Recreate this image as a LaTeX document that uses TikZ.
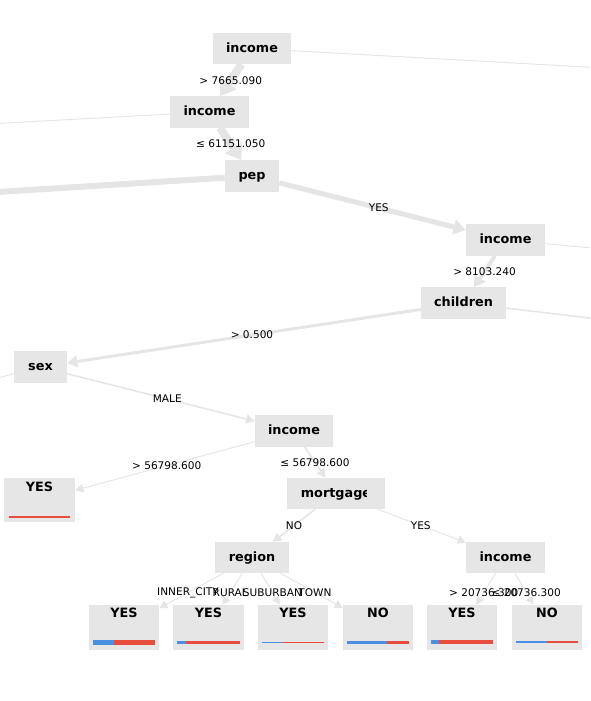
\documentclass[tikz,border=0pt]{standalone}
\usepackage{fontspec}
\setmainfont{DejaVu Sans}
\usetikzlibrary{arrows.meta,calc}

\definecolor{boxgray}{RGB}{230,230,230}
\definecolor{edgegray}{RGB}{229,229,229}
\definecolor{barblue}{RGB}{74,144,226}
\definecolor{barred}{RGB}{231,76,60}

\begin{document}
\begin{tikzpicture}[x=0.025cm, y=-0.025cm,
  box/.style={fill=boxgray, inner sep=0pt, minimum height=0.775cm, font=\bfseries\fontsize{9.1}{10}\selectfont, text height=7pt, text depth=2pt},
  leafbox/.style={fill=boxgray, inner sep=0pt, minimum width=1.75cm, minimum height=1.125cm},
  leaftext/.style={font=\bfseries\fontsize{9.1}{10}\selectfont, inner sep=0pt},
  edge/.style={draw=edgegray, -{Triangle[length=5pt 1, width=5pt 1.5]}},
  stub/.style={draw=edgegray},
  lbl/.style={font=\fontsize{7.5}{9}\selectfont, inner sep=1pt}]
\clip (0,0) rectangle (590,701);

\node[box, minimum width=1.95cm] (income1) at (252,48.5) {income};
\node[box, minimum width=1.975cm] (income2) at (209.5,112) {income};
\node[box, minimum width=1.35cm] (pep) at (252,176) {pep};
\node[box, minimum width=1.975cm] (income3) at (505.5,240) {income};
\node[box, minimum width=2.125cm] (children) at (463.5,303) {children};
\node[box, minimum width=1.325cm] (sex) at (40.5,367) {sex};
\node[box, minimum width=1.95cm] (income4) at (294,431) {income};
\node[box, minimum width=2.45cm] (mortgage) at (336,493.5) {};
\begin{scope}
\clip (287,470) rectangle (366,515);
\node[box, fill=none] (mortgagetext) at (mortgage) {mortgage};
\end{scope}
\node[box, minimum width=1.85cm] (region) at (252,557.5) {region};
\node[box, minimum width=1.975cm] (income5) at (505.5,557.5) {income};

\node[leafbox, minimum width=1.775cm, minimum height=1.1cm] (leafyes) at (39.5,500) {};
\node[leaftext] (leafyestext) at ([yshift=-0.225cm]leafyes.north) {YES};
\draw[barred, line width=1.4pt] ([xshift=0.125cm, yshift=0.125cm]leafyes.south west) -- ([xshift=-0.125cm, yshift=0.125cm]leafyes.south east);

\foreach \n/\x/\txt/\blue/\w in {1/124/YES/21/3.2pt, 2/208.5/YES/9/1.8pt, 3/293/YES/21/1.1pt,
    4/378/NO/40/1.9pt, 5/462/YES/8/2.6pt, 6/547/NO/31/1.4pt} {
  \node[leafbox] (leaf\n) at (\x,627.5) {};
  \node[leaftext] (leaf\n text) at ([yshift=-0.2cm]leaf\n.north) {\txt};
  \draw[barblue, line width=\w] ([xshift=0.1cm, yshift=0.2cm]leaf\n.south west) -- ++(\blue,0) coordinate (leaf\n mid);
  \draw[barred, line width=\w] (leaf\n mid) -- ([xshift=-0.1cm, yshift=0.2cm]leaf\n.south east);
}

\coordinate (outA) at (640,70);
\coordinate (outB) at (-50,126);
\coordinate (outC) at (-50,195);
\coordinate (outD) at (640,252.5);
\coordinate (outE) at (640,324);
\coordinate (outF) at (-50,390);

\draw[stub, line width=0.7pt] (income1) -- (outA);
\draw[stub, line width=0.7pt] (income2) -- (outB);
\draw[stub, line width=4.3pt] (pep) -- (outC);
\draw[stub, line width=0.7pt] (income3) -- (outD);
\draw[stub, line width=1.1pt] (children) -- (outE);
\draw[stub, line width=0.7pt] (sex) -- (outF);

\draw[edge, line width=5.7pt] (income1) -- (income2);
\draw[edge, line width=5.7pt] (income2) -- (pep);
\draw[edge, line width=3.6pt] (pep) -- (income3);
\draw[edge, line width=2.8pt] (income3) -- (children);
\draw[edge, line width=2.1pt] (children) -- (sex);
\draw[edge, line width=1.1pt] (sex) -- (income4);
\draw[edge, line width=0.7pt] (income4) -- (leafyes);
\draw[edge, line width=1.1pt] (income4) -- (mortgage);
\draw[edge, line width=1.1pt] (mortgage) -- (region);
\draw[edge, line width=0.7pt] (mortgage) -- (income5);
\draw[edge, line width=0.7pt] (region) -- (leaf1);
\draw[edge, line width=0.7pt] (region) -- (leaf2);
\draw[edge, line width=0.7pt] (region) -- (leaf3);
\draw[edge, line width=0.7pt] (region) -- (leaf4);
\draw[edge, line width=0.7pt] (income5) -- (leaf5);
\draw[edge, line width=0.7pt] (income5) -- (leaf6);

\node[lbl] (gt7665) at ($(income1)!.5!(income2)$) {> 7665.090};
\node[lbl] (le61151) at ($(income2)!.5!(pep)$) {≤ 61151.050};
\node[lbl] (pepyes) at ($(pep)!.5!(income3)$) {YES};
\node[lbl] (gt8103) at ($(income3)!.5!(children)$) {> 8103.240};
\node[lbl] (gt0500) at ($(children)!.5!(sex)$) {> 0.500};
\node[lbl] (sexmale) at ($(sex)!.5!(income4)$) {MALE};
\node[lbl] (gt56798) at ($(income4)!.5!(leafyes)$) {> 56798.600};
\node[lbl] (le56798) at ($(income4)!.5!(mortgage)$) {≤ 56798.600};
\node[lbl] (mortno) at ($(mortgage)!.5!(region)$) {NO};
\node[lbl] (mortyes) at ($(mortgage)!.5!(income5)$) {YES};
\node[lbl] (inner) at ($(region)!.5!(leaf1)$) {INNER\_CITY};
\node[lbl] (rural) at ($(region)!.5!(leaf2)$) {RURAL};
\node[lbl] (suburban) at ($(region)!.5!(leaf3)$) {SUBURBAN};
\node[lbl] (town) at ($(region)!.5!(leaf4)$) {TOWN};
\node[lbl] (gt20736) at ($(income5)!.5!(leaf5)$) {> 20736.300};
\node[lbl] (le20736) at ($(income5)!.5!(leaf6)$) {≤ 20736.300};
\end{tikzpicture}
\end{document}
